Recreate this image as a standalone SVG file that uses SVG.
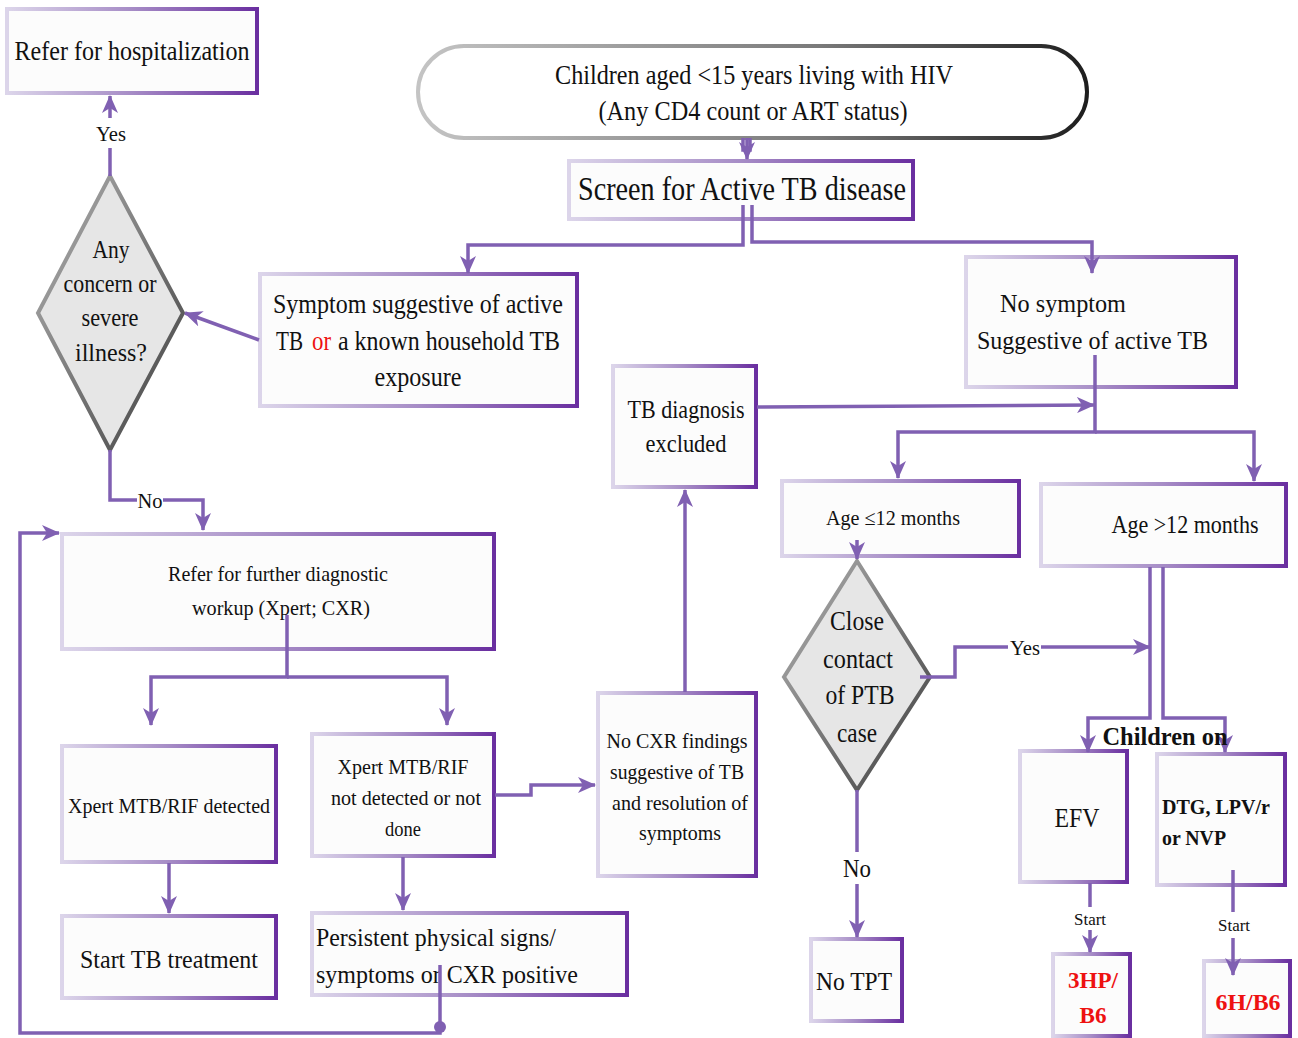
<svg xmlns="http://www.w3.org/2000/svg" width="1298" height="1038" viewBox="0 0 1298 1038">
<defs>
<linearGradient id="gBox" x1="0" y1="0" x2="1" y2="0">
<stop offset="0" stop-color="#dcd5ea"/><stop offset="0.5" stop-color="#a68cc6"/><stop offset="1" stop-color="#6a2fa0"/>
</linearGradient>
<linearGradient id="gOval" x1="0" y1="0" x2="1" y2="0">
<stop offset="0" stop-color="#c4c4c4"/><stop offset="0.6" stop-color="#7a7a7a"/><stop offset="1" stop-color="#1e1e1e"/>
</linearGradient>
<linearGradient id="gDia" x1="0" y1="0" x2="1" y2="1">
<stop offset="0" stop-color="#b4b4b4"/><stop offset="1" stop-color="#3e3e3e"/>
</linearGradient>
<marker id="arr" markerUnits="userSpaceOnUse" markerWidth="18" markerHeight="16" viewBox="0 0 18 16" refX="17" refY="8" orient="auto">
<path d="M0,0 L18,8 L0,16 L5,8 z" fill="#8060b2"/>
</marker>
<style>
.box{fill:#fcfcfc;stroke:url(#gBox);stroke-width:4}
.dia{fill:#e6e6e6;stroke:url(#gDia);stroke-width:4}
.t{font-family:"Liberation Serif","Times New Roman",serif;fill:#111;text-anchor:middle}
.l{text-anchor:start}
.b{font-weight:bold}
.red{fill:#ee1111}
.c{fill:none;stroke:#8060b2;stroke-width:3.5}
.lbl{font-family:"Liberation Serif","Times New Roman",serif;fill:#111;text-anchor:middle}
</style>
</defs>

<g id="n-hosp">
<rect class="box" x="7" y="9" width="250" height="84"/>
<text class="t" x="132" y="60" font-size="28" textLength="235" lengthAdjust="spacingAndGlyphs">Refer for hospitalization</text>
</g>

<g id="n-start">
<rect x="418" y="46" width="669" height="92" rx="46" ry="46" fill="#fff" stroke="url(#gOval)" stroke-width="4"/>
<text class="t" x="754" y="84" font-size="28" textLength="398" lengthAdjust="spacingAndGlyphs">Children aged &lt;15 years living with HIV</text>
<text class="t" x="753" y="120" font-size="28" textLength="309" lengthAdjust="spacingAndGlyphs">(Any CD4 count or ART status)</text>
</g>

<g id="n-screen">
<rect class="box" x="569" y="161" width="344" height="58"/>
<text class="t" x="742" y="200" font-size="33" textLength="328" lengthAdjust="spacingAndGlyphs">Screen for Active TB disease</text>
</g>

<g id="n-symptom">
<rect class="box" x="260" y="274" width="317" height="132"/>
<text class="t" x="418" y="313" font-size="27" textLength="290" lengthAdjust="spacingAndGlyphs">Symptom suggestive of active</text>
<text class="t l" x="276" y="350" font-size="27" textLength="27" lengthAdjust="spacingAndGlyphs">TB</text>
<text class="t l red" x="312" y="350" font-size="27" textLength="19" lengthAdjust="spacingAndGlyphs">or</text>
<text class="t l" x="338" y="350" font-size="27" textLength="222" lengthAdjust="spacingAndGlyphs">a known household TB</text>
<text class="t" x="418" y="386" font-size="27" textLength="87" lengthAdjust="spacingAndGlyphs">exposure</text>
</g>

<g id="n-concern">
<polygon class="dia" points="110,176 183,313 110,450 38,313"/>
<text class="t" x="111" y="258" font-size="25" textLength="37" lengthAdjust="spacingAndGlyphs">Any</text>
<text class="t" x="110" y="292" font-size="25" textLength="93" lengthAdjust="spacingAndGlyphs">concern or</text>
<text class="t" x="110" y="326" font-size="25" textLength="57" lengthAdjust="spacingAndGlyphs">severe</text>
<text class="t" x="111" y="361" font-size="25" textLength="72" lengthAdjust="spacingAndGlyphs">illness?</text>
</g>

<g id="n-nosymptom">
<rect class="box" x="966" y="257" width="270" height="130"/>
<text class="t l" x="1000" y="312" font-size="26" textLength="126" lengthAdjust="spacingAndGlyphs">No symptom</text>
<text class="t l" x="977" y="349" font-size="26" textLength="231" lengthAdjust="spacingAndGlyphs">Suggestive of active TB</text>
</g>

<g id="n-excluded">
<rect class="box" x="613" y="366" width="143" height="121"/>
<text class="t" x="686" y="418" font-size="25" textLength="117" lengthAdjust="spacingAndGlyphs">TB diagnosis</text>
<text class="t" x="686" y="452" font-size="25" textLength="81" lengthAdjust="spacingAndGlyphs">excluded</text>
</g>

<g id="n-age-le12">
<rect class="box" x="782" y="481" width="237" height="75"/>
<text class="t" x="893" y="525" font-size="21" textLength="134" lengthAdjust="spacingAndGlyphs">Age ≤12 months</text>
</g>

<g id="n-age-gt12">
<rect class="box" x="1041" y="484" width="245" height="82"/>
<text class="t" x="1185" y="533" font-size="25" textLength="147" lengthAdjust="spacingAndGlyphs">Age &gt;12 months</text>
</g>

<g id="n-refer">
<rect class="box" x="62" y="534" width="432" height="115"/>
<text class="t" x="278" y="581" font-size="21" textLength="220" lengthAdjust="spacingAndGlyphs">Refer for further diagnostic</text>
<text class="t" x="281" y="615" font-size="21" textLength="178" lengthAdjust="spacingAndGlyphs">workup (Xpert; CXR)</text>
</g>

<g id="n-close">
<polygon class="dia" points="857,561 930,677 857,790 784,677"/>
<text class="t" x="857" y="630" font-size="27" textLength="54" lengthAdjust="spacingAndGlyphs">Close</text>
<text class="t" x="858" y="668" font-size="27" textLength="70" lengthAdjust="spacingAndGlyphs">contact</text>
<text class="t" x="860" y="704" font-size="27" textLength="69" lengthAdjust="spacingAndGlyphs">of PTB</text>
<text class="t" x="857" y="742" font-size="27" textLength="40" lengthAdjust="spacingAndGlyphs">case</text>
</g>

<g id="n-detected">
<rect class="box" x="62" y="746" width="214" height="116"/>
<text class="t" x="169" y="813" font-size="21" textLength="202" lengthAdjust="spacingAndGlyphs">Xpert MTB/RIF detected</text>
</g>

<g id="n-notdetected">
<rect class="box" x="312" y="734" width="182" height="122"/>
<text class="t" x="403" y="774" font-size="21" textLength="131" lengthAdjust="spacingAndGlyphs">Xpert MTB/RIF</text>
<text class="t" x="406" y="805" font-size="21" textLength="150" lengthAdjust="spacingAndGlyphs">not detected or not</text>
<text class="t" x="403" y="836" font-size="21" textLength="36" lengthAdjust="spacingAndGlyphs">done</text>
</g>

<g id="n-nocxr">
<rect class="box" x="598" y="693" width="158" height="183"/>
<text class="t" x="677" y="748" font-size="21" textLength="141" lengthAdjust="spacingAndGlyphs">No CXR findings</text>
<text class="t" x="677" y="779" font-size="21" textLength="134" lengthAdjust="spacingAndGlyphs">suggestive of TB</text>
<text class="t" x="680" y="810" font-size="21" textLength="136" lengthAdjust="spacingAndGlyphs">and resolution of</text>
<text class="t" x="680" y="840" font-size="21" textLength="82" lengthAdjust="spacingAndGlyphs">symptoms</text>
</g>

<g id="n-efv">
<rect class="box" x="1020" y="751" width="107" height="131"/>
<text class="t" x="1077" y="827" font-size="27" textLength="45" lengthAdjust="spacingAndGlyphs">EFV</text>
</g>

<g id="n-dtg">
<rect class="box" x="1157" y="754" width="128" height="131"/>
<text class="t l b" x="1162" y="814" font-size="20" textLength="108" lengthAdjust="spacingAndGlyphs">DTG, LPV/r</text>
<text class="t l b" x="1162" y="845" font-size="20" textLength="64" lengthAdjust="spacingAndGlyphs">or NVP</text>
</g>

<g id="n-starttb">
<rect class="box" x="62" y="916" width="214" height="82"/>
<text class="t" x="169" y="968" font-size="26" textLength="178" lengthAdjust="spacingAndGlyphs">Start TB treatment</text>
</g>

<g id="n-persistent">
<rect class="box" x="312" y="913" width="315" height="82"/>
<text class="t l" x="316" y="946" font-size="26" textLength="240" lengthAdjust="spacingAndGlyphs">Persistent physical signs/</text>
<text class="t l" x="316" y="983" font-size="26" textLength="262" lengthAdjust="spacingAndGlyphs">symptoms or CXR positive</text>
</g>

<g id="n-notpt">
<rect class="box" x="811" y="939" width="91" height="82"/>
<text class="t" x="854" y="990" font-size="26" textLength="76" lengthAdjust="spacingAndGlyphs">No TPT</text>
</g>

<g id="n-3hp">
<rect class="box" x="1053" y="954" width="77" height="82"/>
<text class="t b red" x="1093" y="988" font-size="24" textLength="50" lengthAdjust="spacingAndGlyphs">3HP/</text>
<text class="t b red" x="1093" y="1023" font-size="24" textLength="27" lengthAdjust="spacingAndGlyphs">B6</text>
</g>

<g id="n-6h">
<rect class="box" x="1204" y="961" width="86" height="75"/>
<text class="t b red" x="1248" y="1010" font-size="24" textLength="65" lengthAdjust="spacingAndGlyphs">6H/B6</text>
</g>

<g id="connectors">
<path class="c" d="M110,176 V148"/>
<path class="c" d="M110,118 V96" marker-end="url(#arr)"/>
<path class="c" d="M743,138 V150 L750,150 V138" />
<path class="c" d="M747,138 V159" marker-end="url(#arr)"/>
<path class="c" d="M743,205 V245 H468 V273" marker-end="url(#arr)"/>
<path class="c" d="M752,205 V242 H1092 V273" marker-end="url(#arr)"/>
<path class="c" d="M259,340 L185,313" marker-end="url(#arr)"/>
<path class="c" d="M110,450 V500 H137"/>
<path class="c" d="M163,500 H203 V530" marker-end="url(#arr)"/>
<path class="c" d="M287,615 V677 H151 V725" marker-end="url(#arr)"/>
<path class="c" d="M287,677 H447 V725" marker-end="url(#arr)"/>
<path class="c" d="M169,863 V913" marker-end="url(#arr)"/>
<path class="c" d="M403,857 V910" marker-end="url(#arr)"/>
<path class="c" d="M495,795 H531 V785 H595" marker-end="url(#arr)"/>
<path class="c" d="M440,965 V1033 H20 V533 H59" marker-end="url(#arr)"/>
<circle cx="440" cy="1027" r="6" fill="#8060b2"/>
<path class="c" d="M685,692 V490" marker-end="url(#arr)"/>
<path class="c" d="M757,407 L1094,405" marker-end="url(#arr)"/>
<path class="c" d="M1095,355 V432 H898 V478" marker-end="url(#arr)"/>
<path class="c" d="M1095,432 H1254 V481" marker-end="url(#arr)"/>
<path class="c" d="M857,540 V559" marker-end="url(#arr)"/>
<path class="c" d="M920,677 H955 V647 H1008"/>
<path class="c" d="M1041,647 H1150" marker-end="url(#arr)"/>
<path class="c" d="M857,790 V852"/>
<path class="c" d="M857,884 V937" marker-end="url(#arr)"/>
<path class="c" d="M1150,567 V718 H1088 V752" marker-end="url(#arr)"/>
<path class="c" d="M1163,567 V718 H1225 V752" marker-end="url(#arr)"/>
<path class="c" d="M1090,883 V907"/>
<path class="c" d="M1090,930 V952" marker-end="url(#arr)"/>
<path class="c" d="M1233,870 V912"/>
<path class="c" d="M1233,938 V975" marker-end="url(#arr)"/>
<text class="lbl" x="111" y="141" font-size="21" textLength="30" lengthAdjust="spacingAndGlyphs">Yes</text>
<text class="lbl" x="150" y="508" font-size="21" textLength="25" lengthAdjust="spacingAndGlyphs">No</text>
<text class="lbl" x="1025" y="655" font-size="21" textLength="30" lengthAdjust="spacingAndGlyphs">Yes</text>
<text class="lbl" x="857" y="877" font-size="25" textLength="28" lengthAdjust="spacingAndGlyphs">No</text>
<text class="lbl" x="1090" y="925" font-size="17" textLength="32" lengthAdjust="spacingAndGlyphs">Start</text>
<text class="lbl" x="1234" y="931" font-size="17" textLength="32" lengthAdjust="spacingAndGlyphs">Start</text>
</g>

<g id="n-childrenon">
<text class="t b" x="1165" y="745" font-size="25" textLength="125" lengthAdjust="spacingAndGlyphs">Children on</text>
</g>
</svg>
